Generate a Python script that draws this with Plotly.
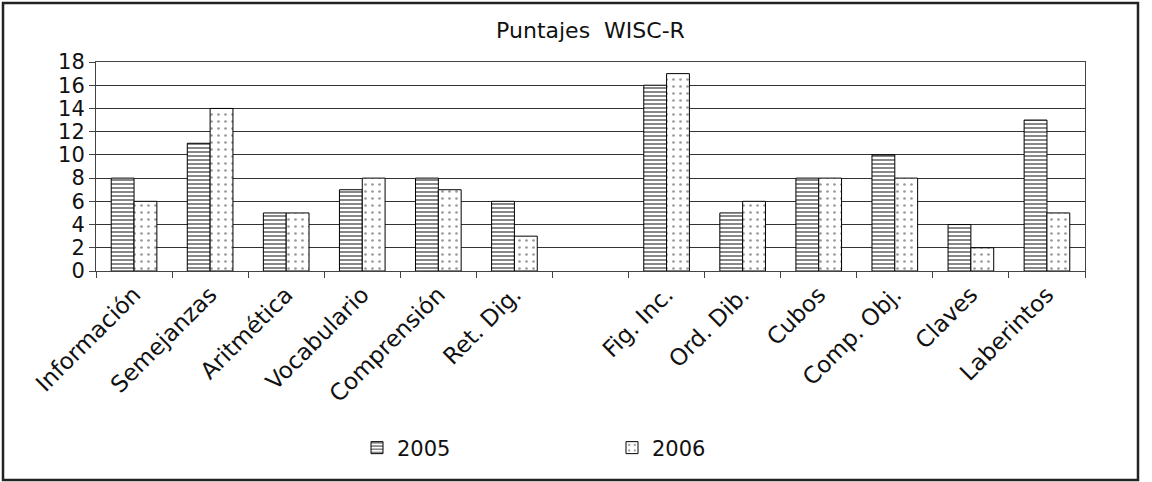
import plotly.graph_objects as go

categories = ["Información", "Semejanzas", "Aritmética", "Vocabulario", "Comprensión",
              "Ret. Dig.", " ", "Fig. Inc.", "Ord. Dib.", "Cubos", "Comp. Obj.",
              "Claves", "Laberintos"]
values_2005 = [8, 11, 5, 7, 8, 6, None, 16, 5, 8, 10, 4, 13]
values_2006 = [6, 14, 5, 8, 7, 3, None, 17, 6, 8, 8, 2, 5]
y_ticks = [0, 2, 4, 6, 8, 10, 12, 14, 16, 18]

FONT = "DejaVu Sans"

fig = go.Figure()
fig.add_trace(go.Bar(
    x=categories, y=values_2005, name="2005",
    marker=dict(color="white", line=dict(color="black", width=1),
                pattern=dict(shape="-", fgcolor="#111", bgcolor="white", size=4, solidity=0.5)),
))
fig.add_trace(go.Bar(
    x=categories, y=values_2006, name="2006",
    marker=dict(color="white", line=dict(color="black", width=1),
                pattern=dict(shape=".", fgcolor="#333", bgcolor="white", size=7, solidity=0.12)),
))

fig.update_layout(
    width=1152, height=482,
    margin=dict(l=96, r=67, t=62, b=211),
    paper_bgcolor="white", plot_bgcolor="white",
    barmode="group", bargap=0.4, bargroupgap=0,
    font=dict(family=FONT, color="#111", size=20),
    title=dict(text="Puntajes  WISC-R", x=0.5, xref="paper", xanchor="center",
               y=1 - 30 / 482, yanchor="middle", font=dict(family=FONT, size=22, color="#111")),
    showlegend=True,
    legend=dict(orientation="h", x=(357 - 96) / 989, xanchor="left",
                y=(271 - 448) / 209, yanchor="middle",
                entrywidth=210, entrywidthmode="pixels",
                font=dict(family=FONT, size=21, color="#111"),
                bgcolor="rgba(0,0,0,0)"),
    xaxis=dict(type="category", tickson="boundaries", ticks="outside", ticklen=6,
               tickcolor="#444", tickangle=-45, showline=True, linecolor="#444",
               linewidth=1, mirror=True, showgrid=False,
               tickfont=dict(family=FONT, size=23, color="#111")),
    yaxis=dict(range=[0, 18], tickvals=y_ticks, ticks="outside", ticklen=6,
               tickcolor="#444", showline=True, linecolor="#444", linewidth=1,
               mirror=True, showgrid=True, gridcolor="#333", gridwidth=1,
               zeroline=False, tickfont=dict(family=FONT, size=21, color="#111")),
)

# outer chart border
fig.add_shape(type="rect", xref="paper", yref="paper",
              x0=(3 - 96) / 989, x1=(1138 - 96) / 989,
              y0=(271 - 480) / 209, y1=(271 - 3) / 209,
              line=dict(color="#222", width=2.5), fillcolor="rgba(0,0,0,0)", layer="below")

fig.write_html("out.html")
